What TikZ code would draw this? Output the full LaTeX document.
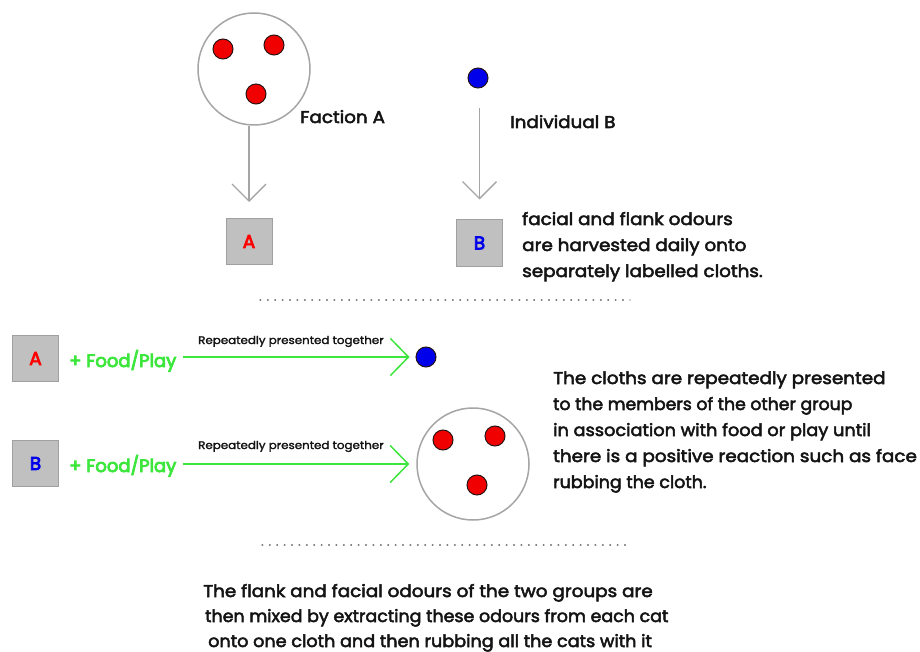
\documentclass[tikz,border=0pt]{standalone}
\usepackage{fontspec}
\usepackage{graphicx}
\setmainfont{Poppins}[FakeStretch=1.08,FakeBold=3]
\newfontfamily\foodfont{Poppins}[FakeBold=4.5]
\newfontfamily\clothfont{Poppins}[FakeBold=4]
\newfontfamily\smallfont{Poppins}[FakeStretch=1.08,FakeBold=2]
\usetikzlibrary{arrows.meta}
\definecolor{ringgray}{RGB}{165,165,165}
\definecolor{boxfill}{RGB}{192,192,192}
\definecolor{boxline}{RGB}{160,160,160}
\definecolor{dotred}{RGB}{240,0,0}
\definecolor{dotblue}{RGB}{0,0,235}
\definecolor{dotrim}{RGB}{40,20,20}
\definecolor{brightgreen}{RGB}{60,230,60}
\definecolor{txt}{RGB}{20,20,20}
\newcommand{\hfit}[2]{\scalebox{#1}[1]{#2}}
\tikzset{
  ring/.style={circle,draw=ringgray,line width=1.5pt,fill=white,minimum size=112pt,inner sep=0pt},
  reddot/.style={circle,draw=dotrim,line width=1pt,fill=dotred,minimum size=20pt,inner sep=0pt},
  bluedot/.style={circle,draw=dotrim,line width=1pt,fill=dotblue,minimum size=20pt,inner sep=0pt},
  cloth/.style={rectangle,draw=boxline,line width=1pt,fill=boxfill,minimum width=46pt,minimum height=46pt,inner sep=0pt,font=\clothfont\fontsize{18.5}{18.5}\selectfont},
  downarrow/.style={draw=ringgray,line width=1.3pt,-{Straight Barb[length=17pt,width=34pt,line width=1.3pt]}},
  greenarrow/.style={draw=brightgreen,line width=1.5pt,-{Straight Barb[length=18pt,width=37pt,line width=1.5pt]}},
  bigtxt/.style={anchor=base west,inner sep=0pt,text=txt,font=\fontsize{17}{17}\selectfont},
  smalltxt/.style={anchor=base west,inner sep=0pt,text=txt,font=\smallfont\fontsize{11}{11}\selectfont},
  foodtxt/.style={anchor=base west,inner sep=0pt,text=brightgreen,font=\foodfont\fontsize{18}{18}\selectfont},
  sep/.style={draw=gray,line width=1.2pt,dash pattern=on 0.8pt off 6.6pt,line cap=round}
}
\begin{document}
\begin{tikzpicture}[x=1pt,y=-1pt]
\useasboundingbox (0,0) rectangle (920,652);
% top: faction A
\node[ring] (fa) at (254,69) {};
\node[reddot] (fa1) at (223,49) {};
\node[reddot] (fa2) at (274,45) {};
\node[reddot] (fa3) at (256,94) {};
\node[bigtxt] (falab) at (300,123) {Faction A};
\node[cloth,text=red] (ca) at (249,241.5) {A};
\draw[downarrow,shorten >=16pt] (fa.south -| ca.north) -- (ca.north);
% individual B
\node[bluedot] (ib) at (478,78) {};
\node[bigtxt] (iblab) at (510,128) {Individual B};
\node[cloth,text=dotblue] (cb) at (479.5,243) {B};
\draw[downarrow,shorten <=20pt,shorten >=20pt] (ib.south -| cb.north) -- (cb.north);
\node[bigtxt] (t1) at (522,225) {facial and flank odours};
\node[bigtxt] (t2) at (522,251) {are harvested daily onto};
\node[bigtxt] (t3) at (522,277) {separately labelled cloths.};
% separator 1
\coordinate (s1a) at (260,300);
\coordinate (s1b) at (630,300);
\draw[sep] (s1a) -- (s1b);
% row 1
\node[cloth,text=red] (ra) at (35.5,358.5) {A};
\node[foodtxt] (fp1) at (69,367) {+ Food/Play};
\node[smalltxt] (rp1) at (198,344) {Repeatedly presented together};
\node[bluedot] (rd) at (426,357) {};
\draw[greenarrow,shorten <=6pt,shorten >=6pt] (fp1.east |- rd.west) -- (rd.west);
% row 2
\node[cloth,text=dotblue] (rb) at (35.5,463.5) {B};
\node[foodtxt] (fp2) at (69,472) {+ Food/Play};
\node[smalltxt] (rp2) at (198,449) {Repeatedly presented together};
\node[ring] (rf) at (473,464) {};
\node[reddot] (rf1) at (443,440) {};
\node[reddot] (rf2) at (495,436) {};
\node[reddot] (rf3) at (477,485) {};
\draw[greenarrow,shorten <=6pt,shorten >=7pt] (fp2.east |- rf.west) -- (rf.west);
\node[bigtxt] (u1) at (553,384) {The cloths are repeatedly presented};
\node[bigtxt] (u2) at (553,410) {\hfit{0.94}{to the members of the other group}};
\node[bigtxt] (u3) at (553,436) {\hfit{0.965}{in association with food or play until}};
\node[bigtxt] (u4) at (553,462) {there is a positive reaction such as face};
\node[bigtxt] (u5) at (553,488) {\hfit{0.95}{rubbing the cloth.}};
% separator 2
\coordinate (s2a) at (262,545);
\coordinate (s2b) at (630,545);
\draw[sep] (s2a) -- (s2b);
% bottom
\node[bigtxt] (v1) at (203,597) {The flank and facial odours of the two groups are};
\node[bigtxt] (v2) at (205,622) {\hfit{0.95}{then mixed by extracting these odours from each cat}};
\node[bigtxt] (v3) at (208,647) {\hfit{0.96}{onto one cloth and then rubbing all the cats with it}};
\end{tikzpicture}
\end{document}
